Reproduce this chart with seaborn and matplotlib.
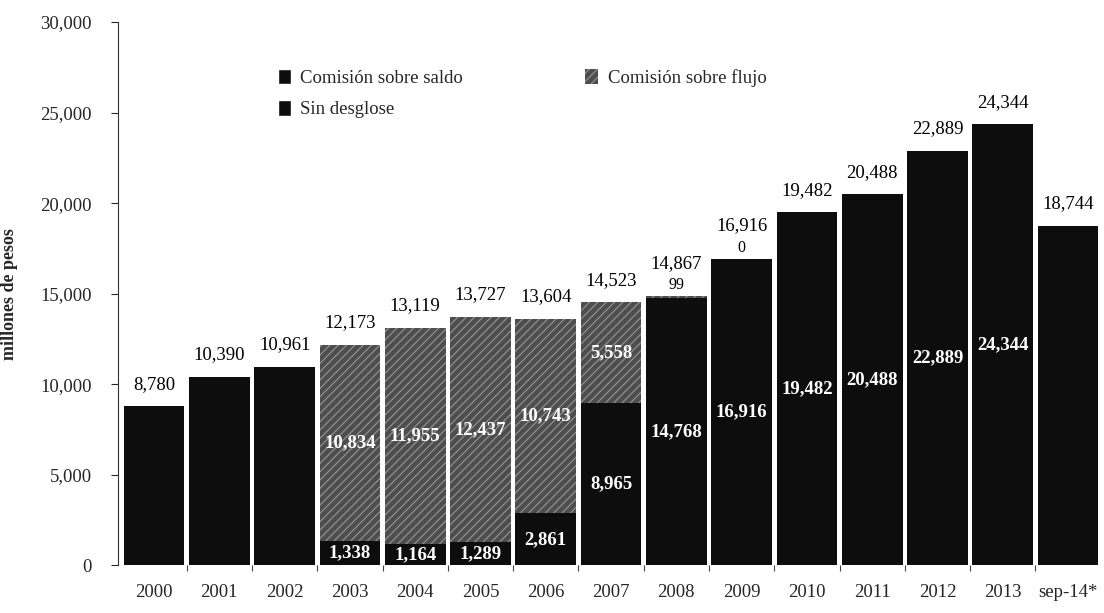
import pandas as pd
import matplotlib.pyplot as plt
import seaborn as sns
from matplotlib.patches import Patch

# Data
periods = ["2000", "2001", "2002", "2003", "2004", "2005", "2006", "2007",
           "2008", "2009", "2010", "2011", "2012", "2013", "sep-14*"]
sin_desglose = [8780, 10390, 10961, 0, 0, 0, 0, 0, 0, 0, 0, 0, 0, 0, 18744]
saldo = [0, 0, 0, 1338, 1164, 1289, 2861, 8965, 14768, 16916, 19482, 20488, 22889, 24344, 0]
flujo = [0, 0, 0, 10834, 11955, 12437, 10743, 5558, 99, 0, 0, 0, 0, 0, 0]
totals = [8780, 10390, 10961, 12173, 13119, 13727, 13604, 14523,
          14867, 16916, 19482, 20488, 22889, 24344, 18744]
# periods where the flujo value is printed above the bar
flujo_above = ["2008", "2009"]

df = pd.DataFrame({"periodo": periods, "sin": sin_desglose, "saldo": saldo,
                   "flujo": flujo, "total": totals})
df["saldo_flujo"] = df["saldo"] + df["flujo"]

sns.set_style("white")
plt.rcParams["font.family"] = ["Liberation Serif", "DejaVu Serif"]

fig = plt.figure(figsize=(11.04, 6.13), dpi=100)
ax = fig.add_axes([0.107, 0.078, 0.893, 0.886])

black = "#0d0d0d"
gray = "#4d4d4d"
w = 0.93
fs = 13.5

sns.barplot(data=df, x="periodo", y="saldo_flujo", color=gray, width=w,
            saturation=1, hatch="////", edgecolor="#8a8a8a", linewidth=0, ax=ax)
sns.barplot(data=df, x="periodo", y="saldo", color=black, width=w,
            saturation=1, linewidth=0, ax=ax)
sns.barplot(data=df, x="periodo", y="sin", color=black, width=w,
            saturation=1, linewidth=0, ax=ax)

for i, row in df.iterrows():
    above = row["periodo"] in flujo_above
    off = 1350 if above else 750
    ax.text(i, row["total"] + off, f"{row['total']:,}", ha="center", va="bottom",
            fontsize=fs, color="black")
    if row["saldo"] > 0:
        ax.text(i, row["saldo"] / 2, f"{row['saldo']:,}", ha="center", va="center",
                fontsize=fs, color="white", fontweight="bold")
    if above:
        ax.text(i, row["total"] + 150, f"{row['flujo']:,}", ha="center", va="bottom",
                fontsize=11.5, color="black")
    elif row["flujo"] > 0:
        ax.text(i, row["saldo"] + row["flujo"] / 2, f"{row['flujo']:,}", ha="center",
                va="center", fontsize=fs, color="white", fontweight="bold")

ax.set_ylim(0, 30000)
ax.set_xlim(-0.55, len(periods) - 0.45)
ax.set_yticks(range(0, 30001, 5000))
ax.set_yticklabels([f"{v:,}" for v in range(0, 30001, 5000)], fontsize=fs)
ax.tick_params(axis="y", left=True, length=5, width=0.8, pad=14)
ax.tick_params(axis="x", bottom=False, labelsize=fs, pad=10)
ax.set_xlabel("")
ax.set_ylabel("millones de pesos", fontsize=13, fontweight="bold", labelpad=16)
ax.set_xticks([i + 0.5 for i in range(len(periods) - 1)], minor=True)
ax.tick_params(axis="x", which="minor", bottom=True, length=4, width=0.8, color="#444")

sns.despine(ax=ax, top=True, right=True, bottom=True)
ax.spines["left"].set_linewidth(0.8)
ax.spines["left"].set_color("#333")

handles = [Patch(facecolor=black, label="Comisión sobre saldo"),
           Patch(facecolor=black, label="Sin desglose"),
           Patch(facecolor=gray, hatch="////", edgecolor="#8a8a8a", linewidth=0,
                 label="Comisión sobre flujo")]
ax.legend(handles=handles, ncol=2, loc="upper left", bbox_to_anchor=(0.145, 0.945),
          frameon=False, fontsize=fs, handlelength=0.7, handleheight=0.9,
          handletextpad=0.5, columnspacing=6.5, labelspacing=0.7)

plt.savefig("out.png", dpi=100)
